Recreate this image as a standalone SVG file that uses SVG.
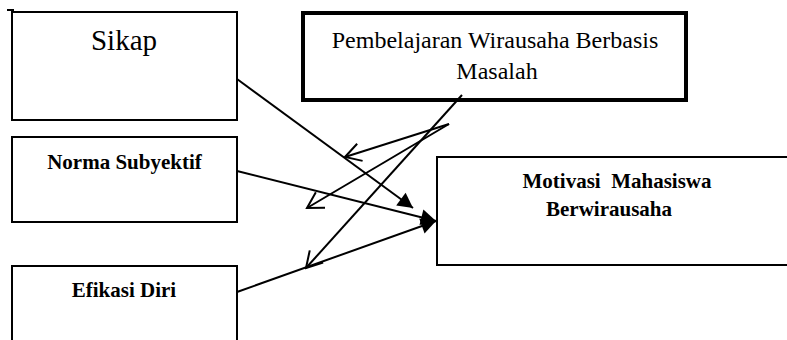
<svg xmlns="http://www.w3.org/2000/svg" width="787" height="340" viewBox="0 0 787 340">
<style>
.box{fill:#fff;stroke:#000;stroke-width:2}
.thick{fill:#fff;stroke:#000;stroke-width:4}
text{font-family:'Liberation Serif','Times New Roman',serif;fill:#000;text-anchor:middle;white-space:pre}
.b{font-weight:bold;font-size:21px}
.c{fill:none;stroke:#000;stroke-width:2}
</style>
<defs>
<marker id="fa" markerUnits="userSpaceOnUse" viewBox="-16 -9 17 18" refX="0" refY="0" markerWidth="17" markerHeight="18" orient="auto">
<path d="M0,0 L-15,-8 L-15,8 Z" fill="#000"/>
</marker>
<marker id="oa" markerUnits="userSpaceOnUse" viewBox="-18 -11 20 22" refX="0" refY="0" markerWidth="20" markerHeight="22" orient="auto">
<path d="M-15.6,-9 L0,0 L-15.6,9" fill="none" stroke="#000" stroke-width="2"/>
</marker>
</defs>
<g id="sikap">
<path d="M12,9 V120 H237 V12 H12 M7,10 H14" class="box"/>
<text x="124" y="50" font-size="29">Sikap</text>
</g>
<g id="pembelajaran">
<rect x="303" y="13" width="383" height="87" class="thick"/>
<text x="495" y="48" font-size="24">Pembelajaran Wirausaha Berbasis</text>
<text x="497" y="79" font-size="24">Masalah</text>
</g>
<g id="norma">
<rect x="12" y="137" width="225" height="85" class="box"/>
<text class="b" x="124.5" y="169">Norma Subyektif</text>
</g>
<g id="efikasi">
<path d="M12,342 V266 H237 V342" class="box"/>
<text class="b" x="124" y="297">Efikasi Diri</text>
</g>
<g id="motivasi">
<rect x="437" y="157" width="370" height="108" class="box"/>
<text class="b" x="617" y="188" xml:space="preserve">Motivasi  Mahasiswa</text>
<text class="b" x="609" y="216">Berwirausaha</text>
</g>
<g id="connectors">
<line x1="237" y1="79" x2="413" y2="208" class="c" marker-end="url(#fa)"/>
<line x1="237" y1="171" x2="436" y2="221" class="c" marker-end="url(#fa)"/>
<line x1="237" y1="292" x2="436" y2="221" class="c" marker-end="url(#fa)"/>
<line x1="449" y1="124" x2="345" y2="157" class="c" marker-end="url(#oa)"/>
<line x1="449" y1="124" x2="307" y2="208" class="c" marker-end="url(#oa)"/>
<line x1="462" y1="95" x2="306" y2="268" class="c" marker-end="url(#oa)"/>
</g>
</svg>
